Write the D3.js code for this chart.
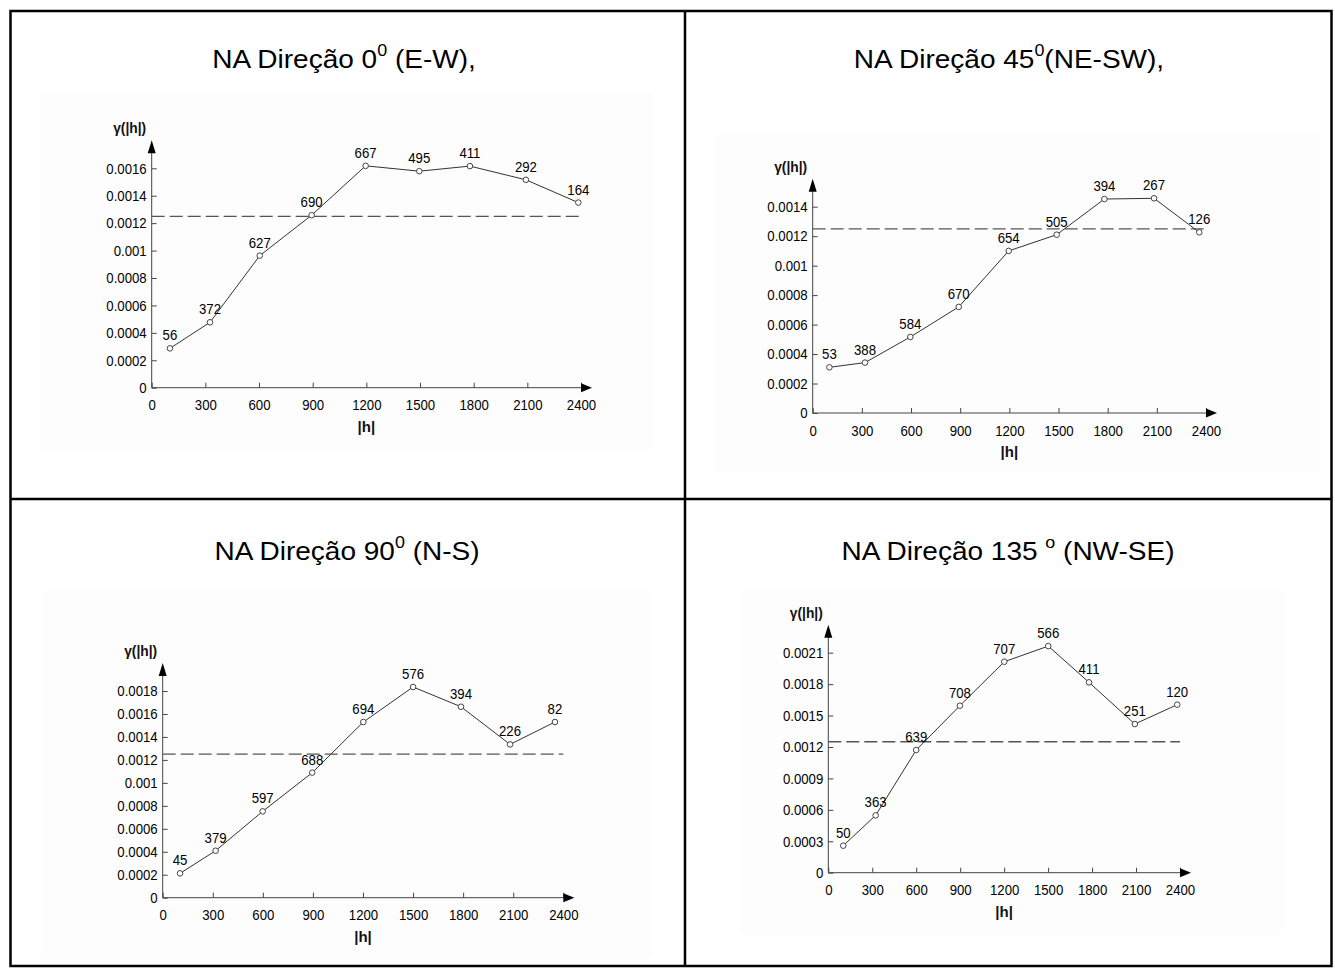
<!DOCTYPE html>
<html>
<head>
<meta charset="utf-8">
<script src="https://cdn.jsdelivr.net/npm/d3@7"></script>
<style>
  html, body { margin: 0; padding: 0; background: #fff; }
  svg { display: block; font-family: "Liberation Sans", Arial, sans-serif; }
</style>
</head>
<body>
<svg id="chart" width="1335" height="978"></svg>
<script>
// Experimental semivariograms of the four directions: lag |h|, gamma(|h|), number of pairs
const lags0 = [102, 326, 604, 894, 1196, 1496, 1779, 2092, 2385];
const gamma0 = [0.000287, 0.000477, 0.000963, 0.001258, 0.001618, 0.001579, 0.001616, 0.001516, 0.00135];
const pairs0 = [56, 372, 627, 690, 667, 495, 411, 292, 164];

const lags45 = [102, 319, 596, 891, 1196, 1489, 1780, 2083, 2359];
const gamma45 = [0.00031, 0.000342, 0.000516, 0.00072, 0.0011, 0.00121, 0.001452, 0.001457, 0.001226];
const pairs45 = [53, 388, 584, 670, 654, 505, 394, 267, 126];

const lags90 = [104, 317, 599, 896, 1202, 1500, 1787, 2081, 2350];
const gamma90 = [0.000212, 0.000409, 0.000752, 0.001089, 0.00153, 0.001835, 0.001663, 0.001335, 0.00153];
const pairs90 = [45, 379, 597, 688, 694, 576, 394, 226, 82];

const lags135 = [102, 323, 600, 898, 1201, 1501, 1779, 2092, 2381];
const gamma135 = [0.000258, 0.000547, 0.001171, 0.001594, 0.002014, 0.002163, 0.001817, 0.001419, 0.001604];
const pairs135 = [50, 363, 639, 708, 707, 566, 411, 251, 120];

// Sample variance (sill reference line)
const sill = 0.00125;

// Axis ticks
const xTicks = [0, 300, 600, 900, 1200, 1500, 1800, 2100, 2400];
const yTicks0 = [0, 0.0002, 0.0004, 0.0006, 0.0008, 0.001, 0.0012, 0.0014, 0.0016];
const yTicks45 = [0, 0.0002, 0.0004, 0.0006, 0.0008, 0.001, 0.0012, 0.0014];
const yTicks90 = [0, 0.0002, 0.0004, 0.0006, 0.0008, 0.001, 0.0012, 0.0014, 0.0016, 0.0018];
const yTicks135 = [0, 0.0003, 0.0006, 0.0009, 0.0012, 0.0015, 0.0018, 0.0021];

// Panel titles: main text, superscript, trailing text
const titles = [
  ["NA Direção 0", "0", " (E-W),"],
  ["NA Direção 45", "0", "(NE-SW),"],
  ["NA Direção 90", "0", " (N-S)"],
  ["NA Direção 135 ", "o", " (NW-SE)"]
];

const panels = [
  { lags: lags0, gamma: gamma0, pairs: pairs0, yTicks: yTicks0, title: titles[0],
    cx: 344, ty: 68, bg: [40, 93, 614, 357],
    x0: 151.7, x1: 581, y0: 387.7, y1: 168.3 },
  { lags: lags45, gamma: gamma45, pairs: pairs45, yTicks: yTicks45, title: titles[1],
    cx: 1009, ty: 68, bg: [715, 135, 605, 337],
    x0: 812.7, x1: 1206, y0: 413, y1: 206.7 },
  { lags: lags90, gamma: gamma90, pairs: pairs90, yTicks: yTicks90, title: titles[2],
    cx: 347, ty: 560, bg: [42, 590, 610, 368],
    x0: 162.7, x1: 563.3, y0: 897.7, y1: 691 },
  { lags: lags135, gamma: gamma135, pairs: pairs135, yTicks: yTicks135, title: titles[3],
    cx: 1008, ty: 560, bg: [740, 590, 545, 344],
    x0: 828.3, x1: 1180, y0: 872.7, y1: 652.7 }
];

const svg = d3.select("#chart");
const fmt = d3.format("~g");

// squeeze or widen text horizontally by factor k
function stretch(sel, k) {
  sel.each(function () {
    const len = this.getComputedTextLength();
    d3.select(this).attr("textLength", len * k).attr("lengthAdjust", "spacingAndGlyphs");
  });
}

// Table frame
const frame = svg.append("g").attr("stroke", "#000").attr("stroke-width", 2.5).attr("fill", "none");
frame.append("rect").attr("x", 10.5).attr("y", 11).attr("width", 1321).attr("height", 955);
frame.append("line").attr("x1", 685).attr("x2", 685).attr("y1", 11).attr("y2", 966);
frame.append("line").attr("x1", 10.5).attr("x2", 1331.5).attr("y1", 499).attr("y2", 499);

panels.forEach(p => {
  const g = svg.append("g");

  // faint plot background
  g.append("rect")
    .attr("x", p.bg[0]).attr("y", p.bg[1]).attr("width", p.bg[2]).attr("height", p.bg[3])
    .attr("fill", "#fdfdfd");

  // title with superscript
  const t = g.append("text")
    .attr("x", p.cx).attr("y", p.ty)
    .attr("text-anchor", "middle")
    .attr("font-size", 25)
    .attr("fill", "#000");
  t.append("tspan").text(p.title[0]);
  t.append("tspan").attr("font-size", 16).attr("dy", -12).text(p.title[1]);
  t.append("tspan").attr("dy", 12).text(p.title[2]);
  stretch(t, 1.12);

  const yMax = p.yTicks[p.yTicks.length - 1];
  const x = d3.scaleLinear().domain([0, 2400]).range([p.x0, p.x1]);
  const y = d3.scaleLinear().domain([0, yMax]).range([p.y0, p.y1]);

  // x axis
  const xAxis = d3.axisBottom(x).tickValues(xTicks).tickFormat(d3.format("d"))
    .tickSize(-5).tickPadding(12);
  const gx = g.append("g").attr("transform", `translate(0,${p.y0})`).call(xAxis);
  gx.select(".domain").remove();
  gx.selectAll(".tick line").attr("stroke", "#444");
  gx.selectAll(".tick text").attr("font-size", 15).attr("fill", "#000")
    .attr("font-family", "Liberation Sans, Arial, sans-serif");
  stretch(gx.selectAll(".tick text"), 0.88);

  // y axis
  const yAxis = d3.axisLeft(y).tickValues(p.yTicks).tickFormat(fmt).tickSize(-5).tickPadding(5);
  const gy = g.append("g").attr("transform", `translate(${p.x0},0)`).call(yAxis);
  gy.select(".domain").remove();
  gy.selectAll(".tick line").attr("stroke", "#444");
  gy.selectAll(".tick text").attr("font-size", 15).attr("fill", "#000")
    .attr("font-family", "Liberation Sans, Arial, sans-serif");
  stretch(gy.selectAll(".tick text"), 0.88);

  // axis lines with arrowheads
  const xEnd = p.x1 + 11;
  const yTop = p.y1 - 28;
  g.append("line").attr("x1", p.x0).attr("x2", xEnd - 9).attr("y1", p.y0).attr("y2", p.y0)
    .attr("stroke", "#444").attr("stroke-width", 1);
  g.append("line").attr("x1", p.x0).attr("x2", p.x0).attr("y1", p.y0).attr("y2", yTop + 11)
    .attr("stroke", "#444").attr("stroke-width", 1);
  g.append("path")
    .attr("d", `M${xEnd},${p.y0} L${xEnd - 11},${p.y0 - 4.5} L${xEnd - 11},${p.y0 + 4.5} Z`)
    .attr("fill", "#000");
  g.append("path")
    .attr("d", `M${p.x0},${yTop} L${p.x0 - 4},${yTop + 13} L${p.x0 + 4},${yTop + 13} Z`)
    .attr("fill", "#000");

  // axis titles
  const yl = g.append("text").attr("x", p.x0 - 22).attr("y", yTop - 7)
    .attr("text-anchor", "middle").attr("font-size", 15).attr("font-weight", "bold")
    .attr("fill", "#111").text("γ(|h|)");
  stretch(yl, 0.92);
  g.append("text").attr("x", x(1200)).attr("y", p.y0 + 44)
    .attr("text-anchor", "middle").attr("font-size", 15).attr("font-weight", "bold")
    .attr("fill", "#111").text("|h|");

  // sill
  g.append("line")
    .attr("x1", p.x0).attr("x2", p.x1)
    .attr("y1", y(sill)).attr("y2", y(sill))
    .attr("stroke", "#555").attr("stroke-width", 1.3).attr("stroke-dasharray", "13,5");

  const pts = p.lags.map((h, i) => ({ h, g: p.gamma[i], n: p.pairs[i] }));

  // experimental variogram
  g.append("path")
    .datum(pts)
    .attr("d", d3.line().x(d => x(d.h)).y(d => y(d.g)))
    .attr("fill", "none").attr("stroke", "#333").attr("stroke-width", 1);

  g.selectAll("circle.pt").data(pts).join("circle")
    .attr("class", "pt")
    .attr("cx", d => x(d.h)).attr("cy", d => y(d.g)).attr("r", 2.8)
    .attr("fill", "#fff").attr("stroke", "#444").attr("stroke-width", 1);

  // number of pairs above each point
  const np = g.selectAll("text.np").data(pts).join("text")
    .attr("class", "np")
    .attr("x", d => x(d.h)).attr("y", d => y(d.g) - 8)
    .attr("text-anchor", "middle").attr("font-size", 15)
    .attr("fill", "#000").text(d => d.n);
  stretch(np, 0.88);
});
</script>
</body>
</html>
